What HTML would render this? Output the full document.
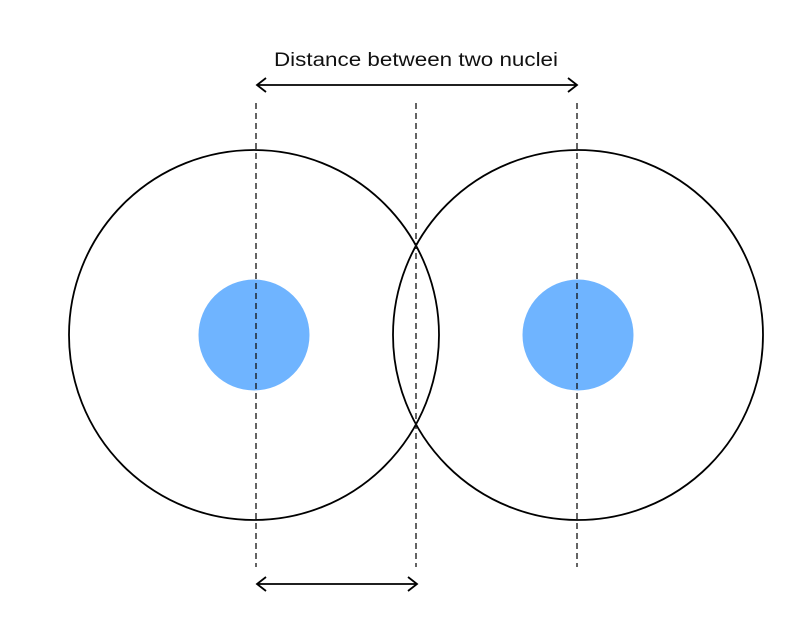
<!DOCTYPE html>
<html><head><meta charset="utf-8"><style>html,body{margin:0;padding:0;background:#fff}svg{display:block}</style></head>
<body>
<svg width="806" height="642" viewBox="0 0 806 642" xmlns="http://www.w3.org/2000/svg">
<circle cx="254" cy="335" r="55.5" fill="#6fb4ff"/>
<circle cx="578" cy="335" r="55.5" fill="#6fb4ff"/>
<circle cx="254" cy="335" r="185" fill="none" stroke="#000" stroke-width="1.8"/>
<circle cx="578" cy="335" r="185" fill="none" stroke="#000" stroke-width="1.8"/>
<g stroke="#111" stroke-width="1.3" stroke-dasharray="6,4">
<line x1="256" y1="103" x2="256" y2="567"/>
<line x1="416" y1="103" x2="416" y2="567"/>
<line x1="577" y1="103" x2="577" y2="567"/>
</g>
<g stroke="#000" stroke-width="1.8" fill="none">
<line x1="257" y1="85" x2="577" y2="85"/>
<polyline points="266,78 257,85 266,92"/>
<polyline points="568,78 577,85 568,92"/>
<line x1="257" y1="584" x2="417" y2="584"/>
<polyline points="266,577 257,584 266,591"/>
<polyline points="408,577 417,584 408,591"/>
</g>
<text x="416" y="66" text-anchor="middle" font-family="Liberation Sans, sans-serif" font-size="19" fill="#111" textLength="284" lengthAdjust="spacingAndGlyphs">Distance between two nuclei</text>
</svg>
</body></html>
